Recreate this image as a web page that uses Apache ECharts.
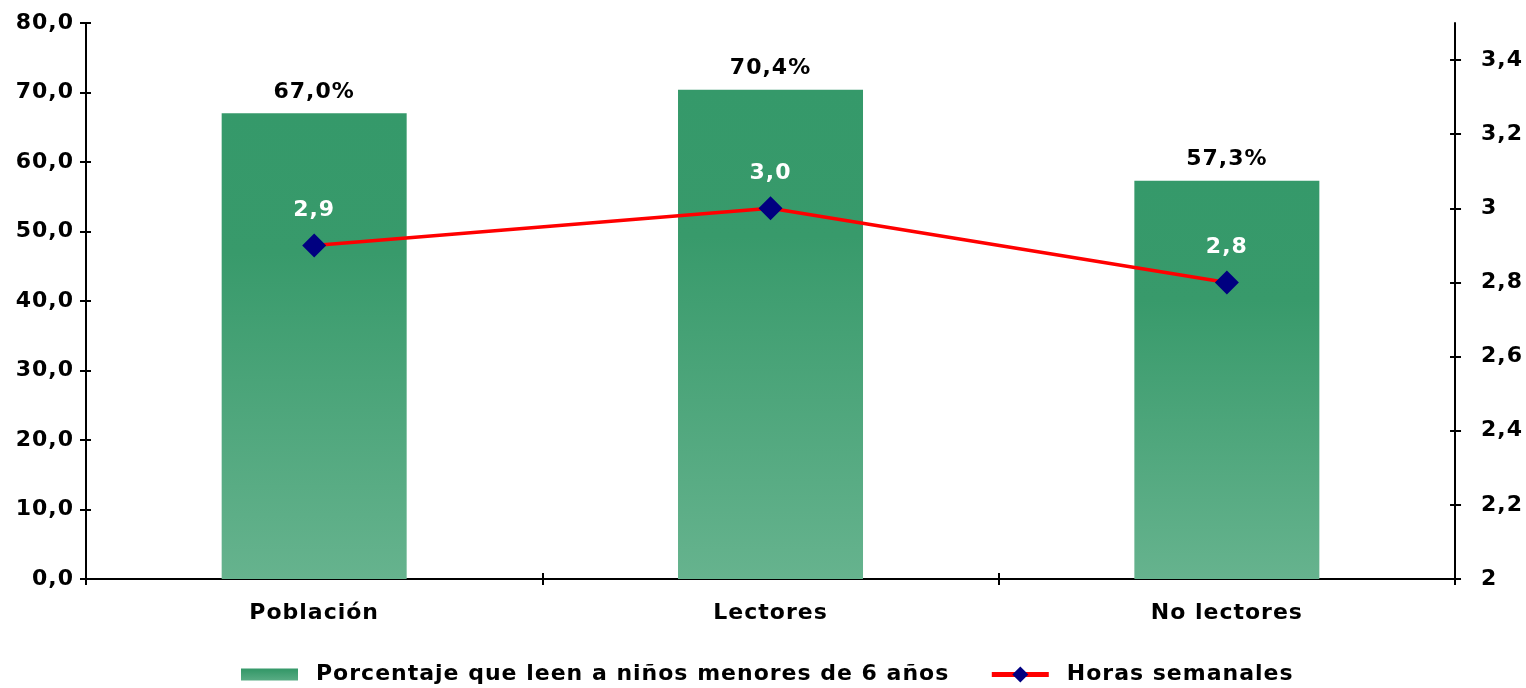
<!DOCTYPE html>
<html><head><meta charset="utf-8">
<script src="https://cdn.jsdelivr.net/npm/echarts@6/dist/echarts.min.js"></script>
<style>html,body{margin:0;padding:0;background:#fff}#c{width:1526px;height:688px}</style>
</head><body><div id="c"></div>
<script>
const categories = ['Población', 'Lectores', 'No lectores'];
const porcentaje = [67.0, 70.4, 57.3];
const horas = [2.9, 3.0, 2.8];
const leftTicks = [0, 10, 20, 30, 40, 50, 60, 70, 80];
const rightTicks = [2, 2.2, 2.4, 2.6, 2.8, 3, 3.2, 3.4];
const seriesNames = ['Porcentaje que leen a niños menores de 6 años', 'Horas semanales'];

// slight letter spacing to mimic the Verdana-like rendering of the original
(function () {
  const proto = CanvasRenderingContext2D.prototype;
  ['fillText', 'strokeText', 'measureText'].forEach(fn => {
    const orig = proto[fn];
    proto[fn] = function (...args) { this.letterSpacing = '1px'; return orig.apply(this, args); };
  });
})();

const FONT = '"DejaVu Sans", Verdana, sans-serif';
const FS = 22;
const comma = s => String(s).replace('.', ',');
const chart = echarts.init(document.getElementById('c'), null, {renderer: 'canvas'});
const axisLineStyle = {color: '#000', width: 2};
const tickStyle = {color: '#000', width: 2};
chart.setOption({
  animation: false,
  grid: {left: 86, right: 68, top: 23, bottom: 109, containLabel: false},
  legend: {
    top: 658, left: 236, itemGap: 40, itemWidth: 57, itemHeight: 20,
    textStyle: {fontFamily: FONT, fontWeight: 'bold', fontSize: FS, color: '#000', padding: [0, 0, 0, 13]},
    data: [
      {name: seriesNames[0], icon: 'path://M0,0 L0.01,0 M0,4 L57,4 L57,16 L0,16 Z M0,20 L0.01,20'},
      {name: seriesNames[1], lineStyle: {width: 5, color: '#FF0000'}}
    ]
  },
  xAxis: [{
    type: 'category', data: categories,
    axisLine: {lineStyle: axisLineStyle},
    axisTick: {show: true, length: 6, lineStyle: tickStyle},
    axisLabel: {fontFamily: FONT, fontWeight: 'bold', fontSize: FS, color: '#000', margin: 23}
  }, {
    type: 'category', data: categories, position: 'bottom',
    axisLine: {show: false},
    axisTick: {show: true, inside: true, length: 6, lineStyle: tickStyle},
    axisLabel: {show: false}
  }],
  yAxis: [{
    type: 'value', min: 0, max: 80, interval: 10,
    axisLine: {show: true, lineStyle: axisLineStyle},
    axisTick: {show: true, length: 6, lineStyle: tickStyle},
    splitLine: {show: false},
    axisLabel: {
      customValues: leftTicks,
      fontFamily: FONT, fontWeight: 'bold', fontSize: FS, color: '#000', margin: 12,
      formatter: v => v.toFixed(1).replace('.', ',')
    }
  }, {
    type: 'value', min: 2, max: 3.5, interval: 0.2, position: 'right',
    axisLine: {show: true, lineStyle: axisLineStyle},
    axisTick: {show: true, length: 6, customValues: rightTicks, lineStyle: tickStyle},
    splitLine: {show: false},
    axisLabel: {
      customValues: rightTicks,
      fontFamily: FONT, fontWeight: 'bold', fontSize: FS, color: '#000', margin: 26,
      formatter: v => comma(Math.round(v * 10) / 10)
    }
  }, {
    type: 'value', min: 0, max: 80, interval: 10, position: 'left',
    axisLine: {show: false},
    axisTick: {show: true, inside: true, length: 5, lineStyle: tickStyle},
    splitLine: {show: false}, axisLabel: {show: false}
  }, {
    type: 'value', min: 2, max: 3.5, interval: 0.2, position: 'right',
    axisLine: {show: false},
    axisTick: {show: true, inside: true, length: 5, customValues: rightTicks, lineStyle: tickStyle},
    splitLine: {show: false}, axisLabel: {show: false}
  }],
  series: [{
    name: seriesNames[0], type: 'bar', data: porcentaje, barWidth: 185,
    itemStyle: {
      color: new echarts.graphic.LinearGradient(0, 0, 0, 1, [
        {offset: 0, color: '#35996A'},
        {offset: 0.3, color: '#389A6B'},
        {offset: 1, color: '#66B38E'}
      ])
    },
    label: {
      show: true, position: 'top', distance: 10,
      fontFamily: FONT, fontWeight: 'bold', fontSize: FS, color: '#000',
      formatter: p => p.value.toFixed(1).replace('.', ',') + '%'
    }
  }, {
    name: seriesNames[1], type: 'line', yAxisIndex: 1, data: horas,
    lineStyle: {color: '#FF0000', width: 3.5},
    itemStyle: {color: '#000080'},
    symbol: 'diamond', symbolSize: 24,
    label: {
      show: true, position: 'top', distance: 12,
      fontFamily: FONT, fontWeight: 'bold', fontSize: FS, color: '#fff',
      formatter: p => p.value.toFixed(1).replace('.', ',')
    }
  }]
});
</script></body></html>
